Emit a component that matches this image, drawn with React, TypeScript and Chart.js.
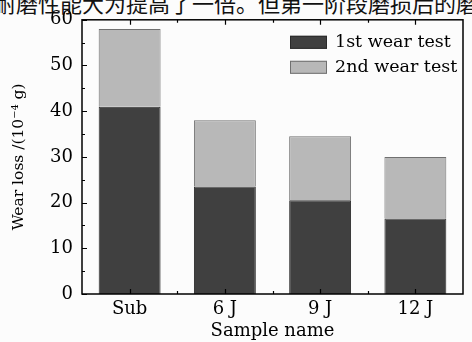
import React, { useEffect, useRef } from "react";
import { Chart, registerables } from "chart.js";

Chart.register(...registerables);

const categories = ["Sub", "6 J", "9 J", "12 J"];
const firstWear = [41, 23.5, 20.5, 16.5];
const secondWear = [17, 14.5, 14, 13.5];
const seriesNames = ["1st wear test", "2nd wear test"];
const yMin = 0;
const yMax = 60;
const yStep = 10;
const yTitle = "Wear loss /(10\u207B\u2074 g)";
const xTitle = "Sample name";
const captionText = "耐磨性能大为提高了一倍。但第一阶段磨损后的磨";

const darkFill = "#404040";
const darkBorder = "#2a2a2a";
const lightFill = "#b8b8b8";
const lightBorder = "#707070";
const serif = "'DejaVu Serif', serif";

const framePlugin = {
  id: "frameTicksLegend",
  afterDraw(chart: any) {
    const { ctx, chartArea } = chart;
    const { left, right, top, bottom } = chartArea;
    const x = chart.scales.x;
    const y = chart.scales.y;
    ctx.save();
    ctx.strokeStyle = "#000";
    ctx.lineWidth = 1.5;
    ctx.strokeRect(left, top, right - left, bottom - top);
    ctx.lineWidth = 1.2;
    ctx.beginPath();
    for (let v = yMin; v <= yMax; v += yStep / 2) {
      const py = Math.round(y.getPixelForValue(v)) + 0.5;
      const len = v % yStep === 0 ? 5 : 3;
      ctx.moveTo(left, py);
      ctx.lineTo(left + len, py);
    }
    for (let i = 0; i < categories.length; i++) {
      const px = Math.round(x.getPixelForValue(i)) + 0.5;
      ctx.moveTo(px, bottom);
      ctx.lineTo(px, bottom - 5);
      ctx.moveTo(px, top);
      ctx.lineTo(px, top + 5);
      if (i < categories.length - 1) {
        const mx = Math.round((x.getPixelForValue(i) + x.getPixelForValue(i + 1)) / 2) + 0.5;
        ctx.moveTo(mx, bottom);
        ctx.lineTo(mx, bottom - 3);
        ctx.moveTo(mx, top);
        ctx.lineTo(mx, top + 3);
      }
    }
    ctx.stroke();

    // legend
    const fills = [darkFill, lightFill];
    const borders = [darkBorder, lightBorder];
    const boxX = right - 173;
    const boxW = 37;
    const boxH = 13;
    ctx.font = "17.5px " + serif;
    ctx.textBaseline = "middle";
    ctx.fillStyle = "#000";
    seriesNames.forEach((name, i) => {
      const by = top + 16 + i * 25;
      ctx.fillStyle = fills[i];
      ctx.fillRect(boxX, by, boxW, boxH);
      ctx.strokeStyle = borders[i];
      ctx.lineWidth = 1;
      ctx.strokeRect(boxX + 0.5, by + 0.5, boxW - 1, boxH - 1);
      ctx.fillStyle = "#000";
      ctx.fillText(name, boxX + boxW + 8, by + boxH / 2 + 0.5);
    });
    ctx.restore();
  },
};

export default function App() {
  const canvasRef = useRef<HTMLCanvasElement | null>(null);

  useEffect(() => {
    if (!canvasRef.current) return;
    const chart = new Chart(canvasRef.current, {
      type: "bar",
      data: {
        labels: categories,
        datasets: [
          {
            label: seriesNames[0],
            data: firstWear,
            backgroundColor: darkFill,
            borderColor: darkBorder,
            borderWidth: 1,
            barPercentage: 0.65,
            categoryPercentage: 1,
          },
          {
            label: seriesNames[1],
            data: secondWear,
            backgroundColor: lightFill,
            borderColor: lightBorder,
            borderWidth: 1,
            barPercentage: 0.65,
            categoryPercentage: 1,
          },
        ],
      },
      options: {
        animation: false,
        responsive: true,
        maintainAspectRatio: false,
        layout: { padding: { top: 16, right: 9, left: 0, bottom: 0 } },
        plugins: {
          legend: { display: false },
          tooltip: { enabled: false },
        },
        scales: {
          x: {
            stacked: true,
            grid: { display: false, drawTicks: false },
            border: { display: false },
            ticks: { color: "#000", font: { family: serif, size: 18 }, padding: 5 },
            title: {
              display: true,
              text: xTitle,
              color: "#000",
              font: { family: serif, size: 18 },
              padding: 0,
            },
            afterFit: (s: any) => {
              s.height = 48;
            },
          },
          y: {
            stacked: true,
            min: yMin,
            max: yMax,
            grid: { display: false, drawTicks: false },
            border: { display: false },
            ticks: { stepSize: yStep, color: "#000", font: { family: serif, size: 18 }, padding: 9 },
            title: {
              display: true,
              text: yTitle,
              color: "#000",
              font: { family: serif, size: 15.5 },
              padding: { top: 10, bottom: 0 },
            },
            afterFit: (s: any) => {
              s.width = 82;
            },
          },
        },
      },
      plugins: [framePlugin],
    });
    return () => chart.destroy();
  }, []);

  return (
    <div
      style={{
        position: "fixed",
        left: 0,
        top: 0,
        width: 472,
        height: 342,
        overflow: "hidden",
        background: "#fcfcfc",
      }}
    >
      <div
        style={{
          position: "absolute",
          left: -6,
          top: -9,
          fontFamily: "'Noto Sans CJK SC', sans-serif",
          fontSize: 22,
          lineHeight: "22px",
          whiteSpace: "nowrap",
          color: "#111",
        }}
      >
        {captionText}
      </div>
      <div style={{ position: "absolute", left: 0, top: 0, width: 472, height: 342 }}>
        <canvas ref={canvasRef} />
      </div>
    </div>
  );
}
